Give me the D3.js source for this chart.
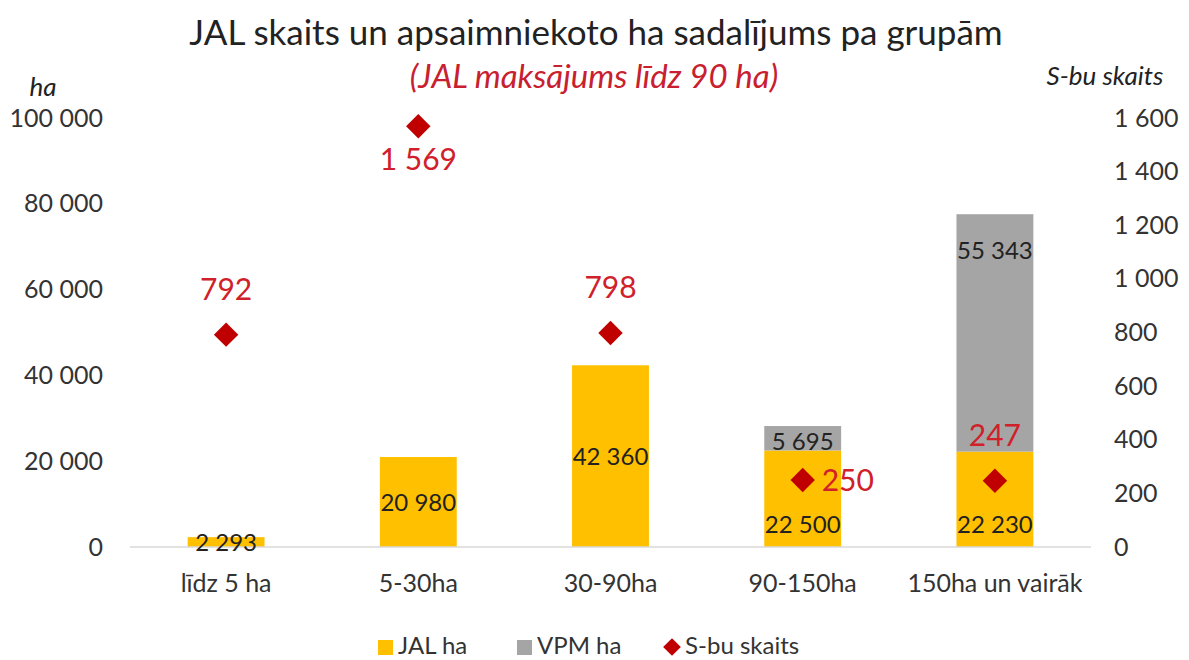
<!DOCTYPE html>
<html>
<head>
<meta charset="utf-8">
<script src="https://cdn.jsdelivr.net/npm/d3@7"></script>
<style>
  body { margin: 0; background: #fff; }
  svg { font-family: Lato, "Open Sans", sans-serif; }
</style>
</head>
<body>
<svg id="chart" width="1189" height="660"></svg>
<script>
"use strict";

// Data
var categories = ["līdz 5 ha", "5-30ha", "30-90ha", "90-150ha", "150ha un vairāk"];
var jalHa = [2293, 20980, 42360, 22500, 22230];
var vpmHa = [0, 0, 0, 5695, 55343];
var sbuCount = [792, 1569, 798, 250, 247];
var leftTicks = [0, 20000, 40000, 60000, 80000, 100000];
var rightTicks = [0, 200, 400, 600, 800, 1000, 1200, 1400, 1600];

// where each label sits
var jalPos = ["center", "center", "center", "base", "base"];
var sbuPos = ["above", "below", "above", "right", "above"];

var fmt = function(v) { return d3.format(",")(v).replace(/,/g, " "); };

var svg = d3.select("#chart");
var x0 = 130, x1 = 1091, yTop = 118, yBase = 547;

var x = d3.scaleBand().domain(categories).range([x0, x1]).paddingInner(0.6).paddingOuter(0.3);
var yL = d3.scaleLinear().domain([0, 100000]).range([yBase, yTop]);
var yR = d3.scaleLinear().domain([0, 1600]).range([yBase, yTop]);

// Title
svg.append("text").attr("x", 596).attr("y", 45).attr("text-anchor", "middle")
  .attr("font-size", 35).attr("fill", "#222").text("JAL skaits un apsaimniekoto ha sadalījums pa grupām");
svg.append("text").attr("x", 594).attr("y", 88).attr("text-anchor", "middle")
  .attr("font-size", 33).attr("font-style", "italic").attr("fill", "#c8202f").text("(JAL maksājums līdz 90 ha)");

// Axis titles
svg.append("text").attr("x", 43).attr("y", 96).attr("text-anchor", "middle")
  .attr("font-size", 26).attr("font-style", "italic").attr("fill", "#222").text("ha");
svg.append("text").attr("x", 1105).attr("y", 85).attr("text-anchor", "middle")
  .attr("font-size", 26).attr("font-style", "italic").attr("fill", "#222").text("S-bu skaits");

// Left axis
var axL = svg.append("g").attr("transform", "translate(103,0)")
  .call(d3.axisLeft(yL).tickValues(leftTicks).tickSize(0).tickPadding(0).tickFormat(fmt));
axL.select(".domain").remove();
axL.selectAll("text").attr("font-size", 25).attr("fill", "#333").attr("font-family", "Lato, sans-serif");

// Right axis
var axR = svg.append("g").attr("transform", "translate(1114,0)")
  .call(d3.axisRight(yR).tickValues(rightTicks).tickSize(0).tickPadding(0).tickFormat(fmt));
axR.select(".domain").remove();
axR.selectAll("text").attr("font-size", 25).attr("fill", "#333").attr("font-family", "Lato, sans-serif");

// Bars
var bw = x.bandwidth();
svg.append("g").selectAll("rect").data(categories).join("rect")
  .attr("x", d => x(d)).attr("width", bw)
  .attr("y", (d, i) => yL(jalHa[i])).attr("height", (d, i) => yBase - yL(jalHa[i]))
  .attr("fill", "#ffc000");
svg.append("g").selectAll("rect").data(categories).join("rect")
  .attr("x", d => x(d)).attr("width", bw)
  .attr("y", (d, i) => yL(jalHa[i] + vpmHa[i])).attr("height", (d, i) => yL(jalHa[i]) - yL(jalHa[i] + vpmHa[i]))
  .attr("fill", "#a5a5a5");

// Baseline
svg.append("line").attr("x1", x0).attr("x2", x1).attr("y1", yBase).attr("y2", yBase)
  .attr("stroke", "#d9d9d9").attr("stroke-width", 1.5);

// Bar labels
categories.forEach(function(c, i) {
  var cx = x(c) + bw / 2;
  var ly = jalPos[i] == "center" ? (yL(jalHa[i]) + yBase) / 2 + 9 : yBase - 14;
  svg.append("text").attr("x", cx).attr("y", ly).attr("text-anchor", "middle")
    .attr("font-size", 24).attr("fill", "#222").text(fmt(jalHa[i]));
  if (vpmHa[i] > 0) {
    var top = yL(jalHa[i] + vpmHa[i]);
    var vy = vpmHa[i] > 20000 ? top + 45 : (top + yL(jalHa[i])) / 2 + 12;
    svg.append("text").attr("x", cx).attr("y", vy).attr("text-anchor", "middle")
      .attr("font-size", 24).attr("fill", "#222").text(fmt(vpmHa[i]));
  }
});

// Diamonds
var sym = d3.symbol().type(d3.symbolDiamond2).size(380);
svg.append("g").selectAll("path").data(categories).join("path")
  .attr("d", sym)
  .attr("transform", (d, i) => "translate(" + (x(d) + bw / 2) + "," + yR(sbuCount[i]) + ")")
  .attr("fill", "#c00000");

categories.forEach(function(c, i) {
  var cx = x(c) + bw / 2, cy = yR(sbuCount[i]);
  var t = svg.append("text").attr("font-size", 30).attr("fill", "#d0202a").text(fmt(sbuCount[i]));
  if (sbuPos[i] == "above") t.attr("x", cx).attr("y", cy - 35).attr("text-anchor", "middle");
  if (sbuPos[i] == "below") t.attr("x", cx).attr("y", cy + 44).attr("text-anchor", "middle");
  if (sbuPos[i] == "right") t.attr("x", cx + 19).attr("y", cy + 11).attr("text-anchor", "start");
});

// Category labels
var axB = svg.append("g").attr("transform", "translate(0," + (yBase + 27) + ")")
  .call(d3.axisBottom(x).tickSize(0).tickPadding(0));
axB.select(".domain").remove();
axB.selectAll("text").attr("font-size", 25).attr("fill", "#333").attr("font-family", "Lato, sans-serif");

// Legend
var legend = [
  { label: "JAL ha", color: "#ffc000", shape: "square", x: 393 },
  { label: "VPM ha", color: "#a5a5a5", shape: "square", x: 532 },
  { label: "S-bu skaits", color: "#c00000", shape: "diamond", x: 680 }
];
legend.forEach(function(l) {
  if (l.shape == "square") {
    svg.append("rect").attr("x", l.x - 15).attr("y", 640).attr("width", 15).attr("height", 15).attr("fill", l.color);
  } else {
    svg.append("path").attr("d", d3.symbol().type(d3.symbolDiamond2).size(200))
      .attr("transform", "translate(" + (l.x - 8) + ",647)").attr("fill", l.color);
  }
  svg.append("text").attr("x", l.x + 5).attr("y", 654).attr("font-size", 24).attr("fill", "#333").text(l.label);
});
</script>
</body>
</html>
